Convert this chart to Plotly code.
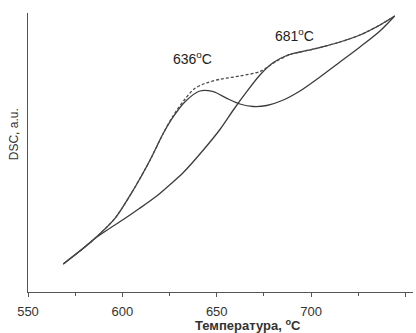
import plotly.graph_objects as go

# Curve with peak at 636 C (deconvoluted component 1)
t1 = [568.7, 579.3, 585.5, 596.1, 605.8, 614.7, 621.7, 627.0, 633.2, 641.1, 648.2, 655.3,
      662.3, 669.4, 676.5, 685.3, 694.1, 704.7, 715.3, 725.9, 736.5, 744.3]
v1 = [28, 43.7, 53.7, 73.7, 102, 132, 158.7, 175.3, 190.3, 201, 200.3, 193.7,
      188, 185.5, 186.5, 192, 201, 215, 230, 245, 261, 276]

# Curve with peak at 681 C (deconvoluted component 2)
t2 = [568.7, 579.3, 585.5, 592.0, 600.5, 609.0, 618.2, 625.0, 632.3, 642.9, 651.7, 658.8,
      665.9, 672.9, 680.0, 687.1, 694.1, 703.0, 715.3, 725.9, 736.5, 744.3]
v2 = [28, 43.7, 53.5, 62, 72.5, 83.5, 96, 107, 119.5, 142, 162.5, 182,
      200.3, 217, 229.5, 236.5, 240, 243.7, 250, 257, 267, 276]

# Measured DSC curve (dashed)
t3 = [568.7, 579.3, 585.5, 596.1, 605.8, 614.7, 621.7, 627.0, 633.2, 638.0, 643.0, 651.7,
      662.3, 672.9, 681.8, 688.8, 694.1, 703.0, 715.3, 725.9, 736.5, 744.3]
v3 = [28, 43.7, 53.7, 73.7, 102, 132, 158.7, 176.5, 193, 203, 208, 212.7,
      216, 220.5, 231, 237.5, 240, 243.7, 250, 257, 267, 276]

x_ticks = [550, 600, 650, 700, 750]
x_minor = [575, 625, 675, 725]
peak_labels = ["636<sup>o</sup>C", "681<sup>o</sup>C"]

line_col = "#3c3c3c"
fig = go.Figure()
fig.add_trace(go.Scatter(x=t1, y=v1, mode="lines",
                         line=dict(color=line_col, width=1.3, shape="spline", smoothing=0.8)))
fig.add_trace(go.Scatter(x=t2, y=v2, mode="lines",
                         line=dict(color=line_col, width=1.3, shape="spline", smoothing=0.8)))
fig.add_trace(go.Scatter(x=t3, y=v3, mode="lines",
                         line=dict(color="#4a4a4a", width=1.3, shape="spline", smoothing=0.8,
                                   dash="3px,2px")))

font = "Liberation Sans, Arial, sans-serif"
fig.add_annotation(x=637.4, y=233.7, text=peak_labels[0], showarrow=False,
                   font=dict(family=font, size=14, color="#222"))
fig.add_annotation(x=691, y=257, text=peak_labels[1], showarrow=False,
                   font=dict(family=font, size=14, color="#222"))
fig.add_annotation(xref="paper", yref="paper", x=-0.036, y=0.566, xanchor="center", yanchor="middle",
                   text="DSC, a.u.", textangle=-90, showarrow=False,
                   font=dict(family=font, size=12, color="#333"))
fig.add_annotation(xref="paper", yref="paper", x=0.5706, y=-0.118, xanchor="center", yanchor="middle",
                   text="<b>Температура, <sup>o</sup>C</b>", showarrow=False,
                   font=dict(family=font, size=13, color="#333"))

fig.update_layout(
    width=416, height=333,
    margin=dict(l=28, r=3, t=13, b=41),
    paper_bgcolor="white", plot_bgcolor="white",
    showlegend=False,
    font=dict(family=font, color="#333"),
)
fig.update_xaxes(range=[550, 754], tickvals=x_ticks, ticks="outside", ticklen=4, tickwidth=1,
                 tickcolor="#555", showline=True, linecolor="#555", linewidth=1.3,
                 showgrid=False, zeroline=False, tickfont=dict(size=13, color="#333"),
                 ticklabelstandoff=3,
                 minor=dict(tickvals=x_minor, ticks="outside", ticklen=3, tickcolor="#555"))
fig.update_yaxes(range=[0, 279], showticklabels=False, ticks="", showline=True, linecolor="#555",
                 linewidth=1.3, showgrid=False, zeroline=False)

fig.write_html("out.html")
